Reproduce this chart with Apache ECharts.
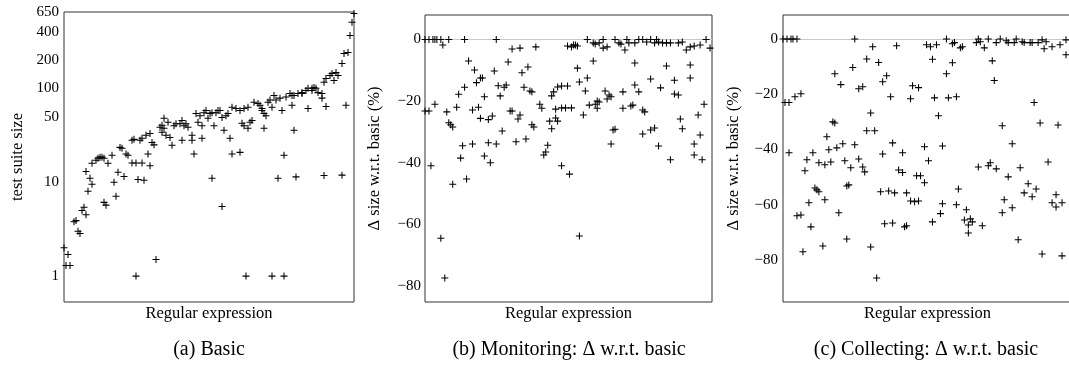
<!DOCTYPE html>
<html><head><meta charset="utf-8">
<script src="https://cdn.jsdelivr.net/npm/echarts@6/dist/echarts.min.js"></script>
<style>html,body{margin:0;padding:0;background:#fff}#c{width:1069px;height:367px}</style>
</head><body><div id="c"></div>
<script>
// ---- data (x = regular-expression index, sorted as in the paper) ----
const aIdx  = [0,1,2,3,5,6,7,8,9,10,11,11,12,13,14,14,16,17,18,19,20,20,21,22,24,25,26,27,28,29,30,31,32,34,34,35,36,36,37,38,39,39,40,41,42,43,43,44,45,46,48,49,49,50,50,51,52,53,54,55,56,58,59,59,60,61,62,64,64,65,66,67,68,69,69,70,71,72,73,74,74,75,76,77,78,79,79,80,81,82,83,84,84,86,88,88,89,90,90,91,92,92,93,94,95,97,98,99,99,100,100,101,102,103,104,104,105,106,107,108,109,110,110,111,113,114,114,115,115,116,117,119,119,121,122,122,124,124,125,126,127,129,129,130,130,131,131,133,134,135,136,137,139,139,140,141,142,143,144,145];
const aSize = [2.0,1.3,1.7,1.3,3.8,3.9,3.0,2.85,5.0,5.4,4.5,13,8.0,11,9.5,15.9,17.1,18,18.5,18.5,18,6.1,5.7,15.9,19.4,10,7.1,12.8,23.5,23,11.5,20,19.4,28,16,28.6,1.0,16,10.7,28,16,29.4,10.5,31.6,20,33,15,26.5,25,1.5,38.5,34,40.5,48,37.5,31.6,43.5,30,24.8,40,42,42,28,45.5,40,42,38.5,28,31.6,20,54,43.5,51,40,29.4,55,58,48,54,11,55,40,55,58,58,49,5.5,35.8,51,54,29.4,20,63,61,58,20.8,42.5,61,40,1.0,63,37.5,43.5,45.5,71,69,66,61,58,54,37.5,51,71,75,1.0,63,84,75,11,78.6,58,1.0,19.4,81,88,84,66,84,35.8,11.4,88,88,90,95,100,61,100,95,102,100,90,88,78.6,116,11.8,127,64,137,144,121,147,137,184,11.9,235,66,241,366,505,628];
const aTicks = [1,10,50,100,200,400,650];

const bIdx   = [0,2,4,5,6,8,9,12,20,36,44,48,56,22,25,35,42,49,52,28,29,26,37,40,41,50,53,54,20,17,30,38,0,2,5,11,16,24,27,12,13,14,28,32,34,43,44,48,47,54,55,39,19,24,32,36,46,51,30,33,18,3,21,14,8,10,78,72,74,75,76,77,82,85,86,88,90,90,92,96,98,99,101,102,103,106,108,110,112,114,116,117,118,120,122,124,128,130,132,134,136,139,142,144,77,85,106,122,134,82,78,67,69,72,65,64,81,91,93,100,106,108,114,119,126,134,126,128,58,59,66,69,71,74,80,83,86,87,87,88,92,94,100,104,105,110,111,141,66,67,63,64,95,96,94,110,114,116,118,129,130,138,139,136,124,136,140,62,61,60,69,73];
const bDelta = [0,0,0,0,0,0,-1.8,0,0,0,-3.1,-2.8,-2.4,-7,-9.9,-10.2,-7.3,-10.8,-8.9,-12.5,-12.5,-14,-15,-15.5,-14.8,-15.5,-16.7,-17,-15.5,-17.8,-18.6,-18.3,-23.2,-23.2,-21,-23.5,-22,-22.9,-22,-27,-27.7,-28.4,-25.6,-26,-24.8,-23.2,-23.2,-24.5,-25.8,-27.7,-28.4,-29.7,-34.5,-33.9,-33.5,-33.9,-33.2,-32.3,-37.8,-40,-38.5,-41,-45.3,-47,-64.5,-77.4,-63.8,-2.1,-2.4,-1.8,-1.8,-2.1,0,-1.1,-1.5,-1.1,0,-2.8,-2.4,0,-1.1,-1.5,-3.4,0,-1.1,-1.1,0,0,-0.8,0,-1.1,0,-0.8,-1.1,-1.1,-1.1,-1.1,-0.8,-3.4,-2.4,-2.1,-1.8,0,-2.8,-9.3,-7,-7.6,-8.6,-8.3,-12.5,-13.8,-15.4,-15.1,-15.1,-17,-18.3,-16.7,-16.7,-18,-17,-14.8,-17,-12.8,-15.7,-13.2,-12.5,-17.7,-18,-21,-22.3,-22.6,-22.2,-22.2,-22.2,-24.5,-21.3,-21,-20,-22.3,-20.3,-19.3,-18.6,-22.3,-21.6,-21.3,-22.9,-23.5,-21,-25.5,-26.5,-26.5,-29,-29.4,-29.1,-33.9,-30.7,-29.4,-28.7,-34.6,-25.8,-29,-24.5,-31,-33.9,-39,-37.5,-39,-34.3,-36.5,-37.5,-41,-43.7];

const cIdx   = [0,2,4,5,7,36,45,57,42,48,35,26,29,38,40,52,50,54,1,3,6,9,44,25,26,42,46,3,22,23,27,30,36,38,55,50,15,12,18,21,24,11,31,34,40,41,58,16,17,18,33,32,21,13,7,9,14,28,10,20,32,44,47,49,53,56,51,55,72,74,77,82,85,86,89,90,97,98,99,101,103,107,109,112,113,117,116,120,121,124,125,128,130,132,131,135,139,142,142,75,85,105,82,106,65,68,64,76,83,87,126,78,110,129,138,60,71,80,73,115,133,60,67,69,98,103,104,107,113,119,71,123,127,121,125,137,135,137,140,62,64,66,68,88,80,87,92,79,75,91,94,95,93,93,100,111,110,115,118,130,140,61,62];
const cDelta = [0,0,0,0,0,0,-2.8,-2.4,-7.2,-8.5,-10.3,-12.6,-16.5,-18,-17.3,-13.3,-15.5,-20.9,-23,-23,-20.9,-19.8,-26.8,-30,-30.4,-33.2,-33.2,-41.2,-35.4,-40.1,-39.4,-37.9,-38.3,-43.4,-37.6,-41.6,-41.2,-43.7,-44.8,-45.5,-44.5,-47.7,-44.1,-46.6,-46.3,-48.1,-47.4,-53.9,-54.6,-55.3,-52.8,-53.2,-58.2,-59.3,-64,-63.7,-68,-62.9,-77,-74.9,-72.4,-75.3,-86.5,-55.3,-55,-55.7,-66.9,-66.6,-2.1,-2.8,-2.1,0,-1.7,-1.3,-3.2,-2.8,-1.3,0,-1,-3.2,0,-1.3,0,-0.6,-1.3,0,-1.3,-1,-1.3,-1.3,-1.3,-1.3,-0.3,-1,-3.5,-2.8,-2.1,-0.3,-5.7,-7.3,-8.6,-7.9,-12.6,-15,-16.9,-17.6,-21.6,-21.3,-21.3,-20.9,-23,-27.8,-31.4,-30.4,-31.1,-41.2,-39,-38.7,-44.1,-37.9,-44.5,-48.3,-49.5,-49.5,-46.3,-45.9,-44.8,-47,-49.9,-46.6,-52,-52.4,-54.3,-55.7,-57.1,-56.4,-59.3,-60.8,-59.3,-55.7,-58.6,-58.9,-58.6,-54.3,-59.6,-60,-61.8,-63.2,-66.2,-65.5,-65.1,-66.2,-67.3,-70.2,-67.6,-58.2,-62.9,-61.1,-72.7,-77.8,-78.5,-68,-67.6];
const deltaTicks = [0,-20,-40,-60,-80];

const captions = ['(a) Basic', '(b) Monitoring: \u0394 w.r.t. basic', '(c) Collecting: \u0394 w.r.t. basic'];
const yNames = ['test suite size', '\u0394 size w.r.t. basic (%)', '\u0394 size w.r.t. basic (%)'];
const xName = 'Regular expression';

// ---- chart ----
const FONT = '"Liberation Serif", "Times New Roman", serif';
const grids = [
  {left: 64,  top: 12, width: 290, height: 290},
  {left: 425, top: 15, width: 287, height: 287},
  {left: 783, top: 15, width: 289, height: 287}
];
const capX = [209, 569, 926];
const nameGaps = [38, 42, 41];
const plus = 'path://M0,-1L0,1M-1,0L1,0';
const minusFmt = v => (v < 0 ? '\u2212' + (-v) : String(v));

function pairs(xs, ys) { return xs.map((x, i) => [x, ys[i]]); }

function scatter(k, xs, ys, zeroLine) {
  const s = {
    type: 'scatter', xAxisIndex: k, yAxisIndex: k, data: pairs(xs, ys),
    symbol: plus, symbolSize: 7, clip: false, silent: true, z: 3,
    itemStyle: {color: 'transparent', borderColor: '#000', borderWidth: 1.05, opacity: 1},
    emphasis: {disabled: true}
  };
  if (zeroLine) {
    s.markLine = {
      silent: true, z: 1, symbol: ['none', 'none'], label: {show: false}, animation: false,
      lineStyle: {color: '#c8c8c8', width: 1, type: 'solid'},
      emphasis: {disabled: true},
      data: [{yAxis: 0}]
    };
  }
  return s;
}

function xAxis(k) {
  return {
    gridIndex: k, type: 'value', min: 0, max: 145,
    axisLine: {show: false}, axisTick: {show: false}, axisLabel: {show: false}, splitLine: {show: false},
    name: xName, nameLocation: 'middle', nameGap: 3, nameMoveOverlap: false,
    nameTextStyle: {fontFamily: FONT, fontSize: 16.5, color: '#000', verticalAlign: 'top'}
  };
}

function yCommon(k) {
  return {
    gridIndex: k, axisLine: {show: false}, axisTick: {show: false}, splitLine: {show: false},
    name: yNames[k], nameLocation: 'middle', nameGap: nameGaps[k], nameRotate: 90, nameMoveOverlap: false,
    nameTextStyle: {fontFamily: FONT, fontSize: 16.5, color: '#000'}
  };
}

const option = {
  animation: false,
  backgroundColor: '#fff',
  grid: grids.map(g => Object.assign({show: true, borderColor: '#333', borderWidth: 1, backgroundColor: 'transparent', containLabel: false, outerBoundsMode: 'none'}, g)),
  xAxis: [xAxis(0), xAxis(1), xAxis(2)],
  yAxis: [
    Object.assign(yCommon(0), {type: 'log', logBase: 10, min: 0.53, max: 650,
      axisLabel: {customValues: aTicks, fontFamily: FONT, fontSize: 15, color: '#000', margin: 5}}),
    Object.assign(yCommon(1), {type: 'value', min: -85.2, max: 7.95,
      axisLabel: {customValues: deltaTicks, formatter: minusFmt, fontFamily: FONT, fontSize: 15, color: '#000', margin: 4}}),
    Object.assign(yCommon(2), {type: 'value', min: -95.2, max: 8.7,
      axisLabel: {customValues: deltaTicks, formatter: minusFmt, fontFamily: FONT, fontSize: 15, color: '#000', margin: 5}})
  ],
  series: [
    scatter(0, aIdx, aSize, false),
    scatter(1, bIdx, bDelta, true),
    scatter(2, cIdx, cDelta, true)
  ],
  graphic: captions.map((t, k) => ({
    type: 'text', x: capX[k], y: 350, silent: true,
    style: {text: t, fontFamily: FONT, fontSize: 20, fill: '#000', align: 'center', verticalAlign: 'middle'}
  }))
};

const chart = echarts.init(document.getElementById('c'), null, {renderer: 'canvas'});
chart.setOption(option);
</script>
</body></html>
